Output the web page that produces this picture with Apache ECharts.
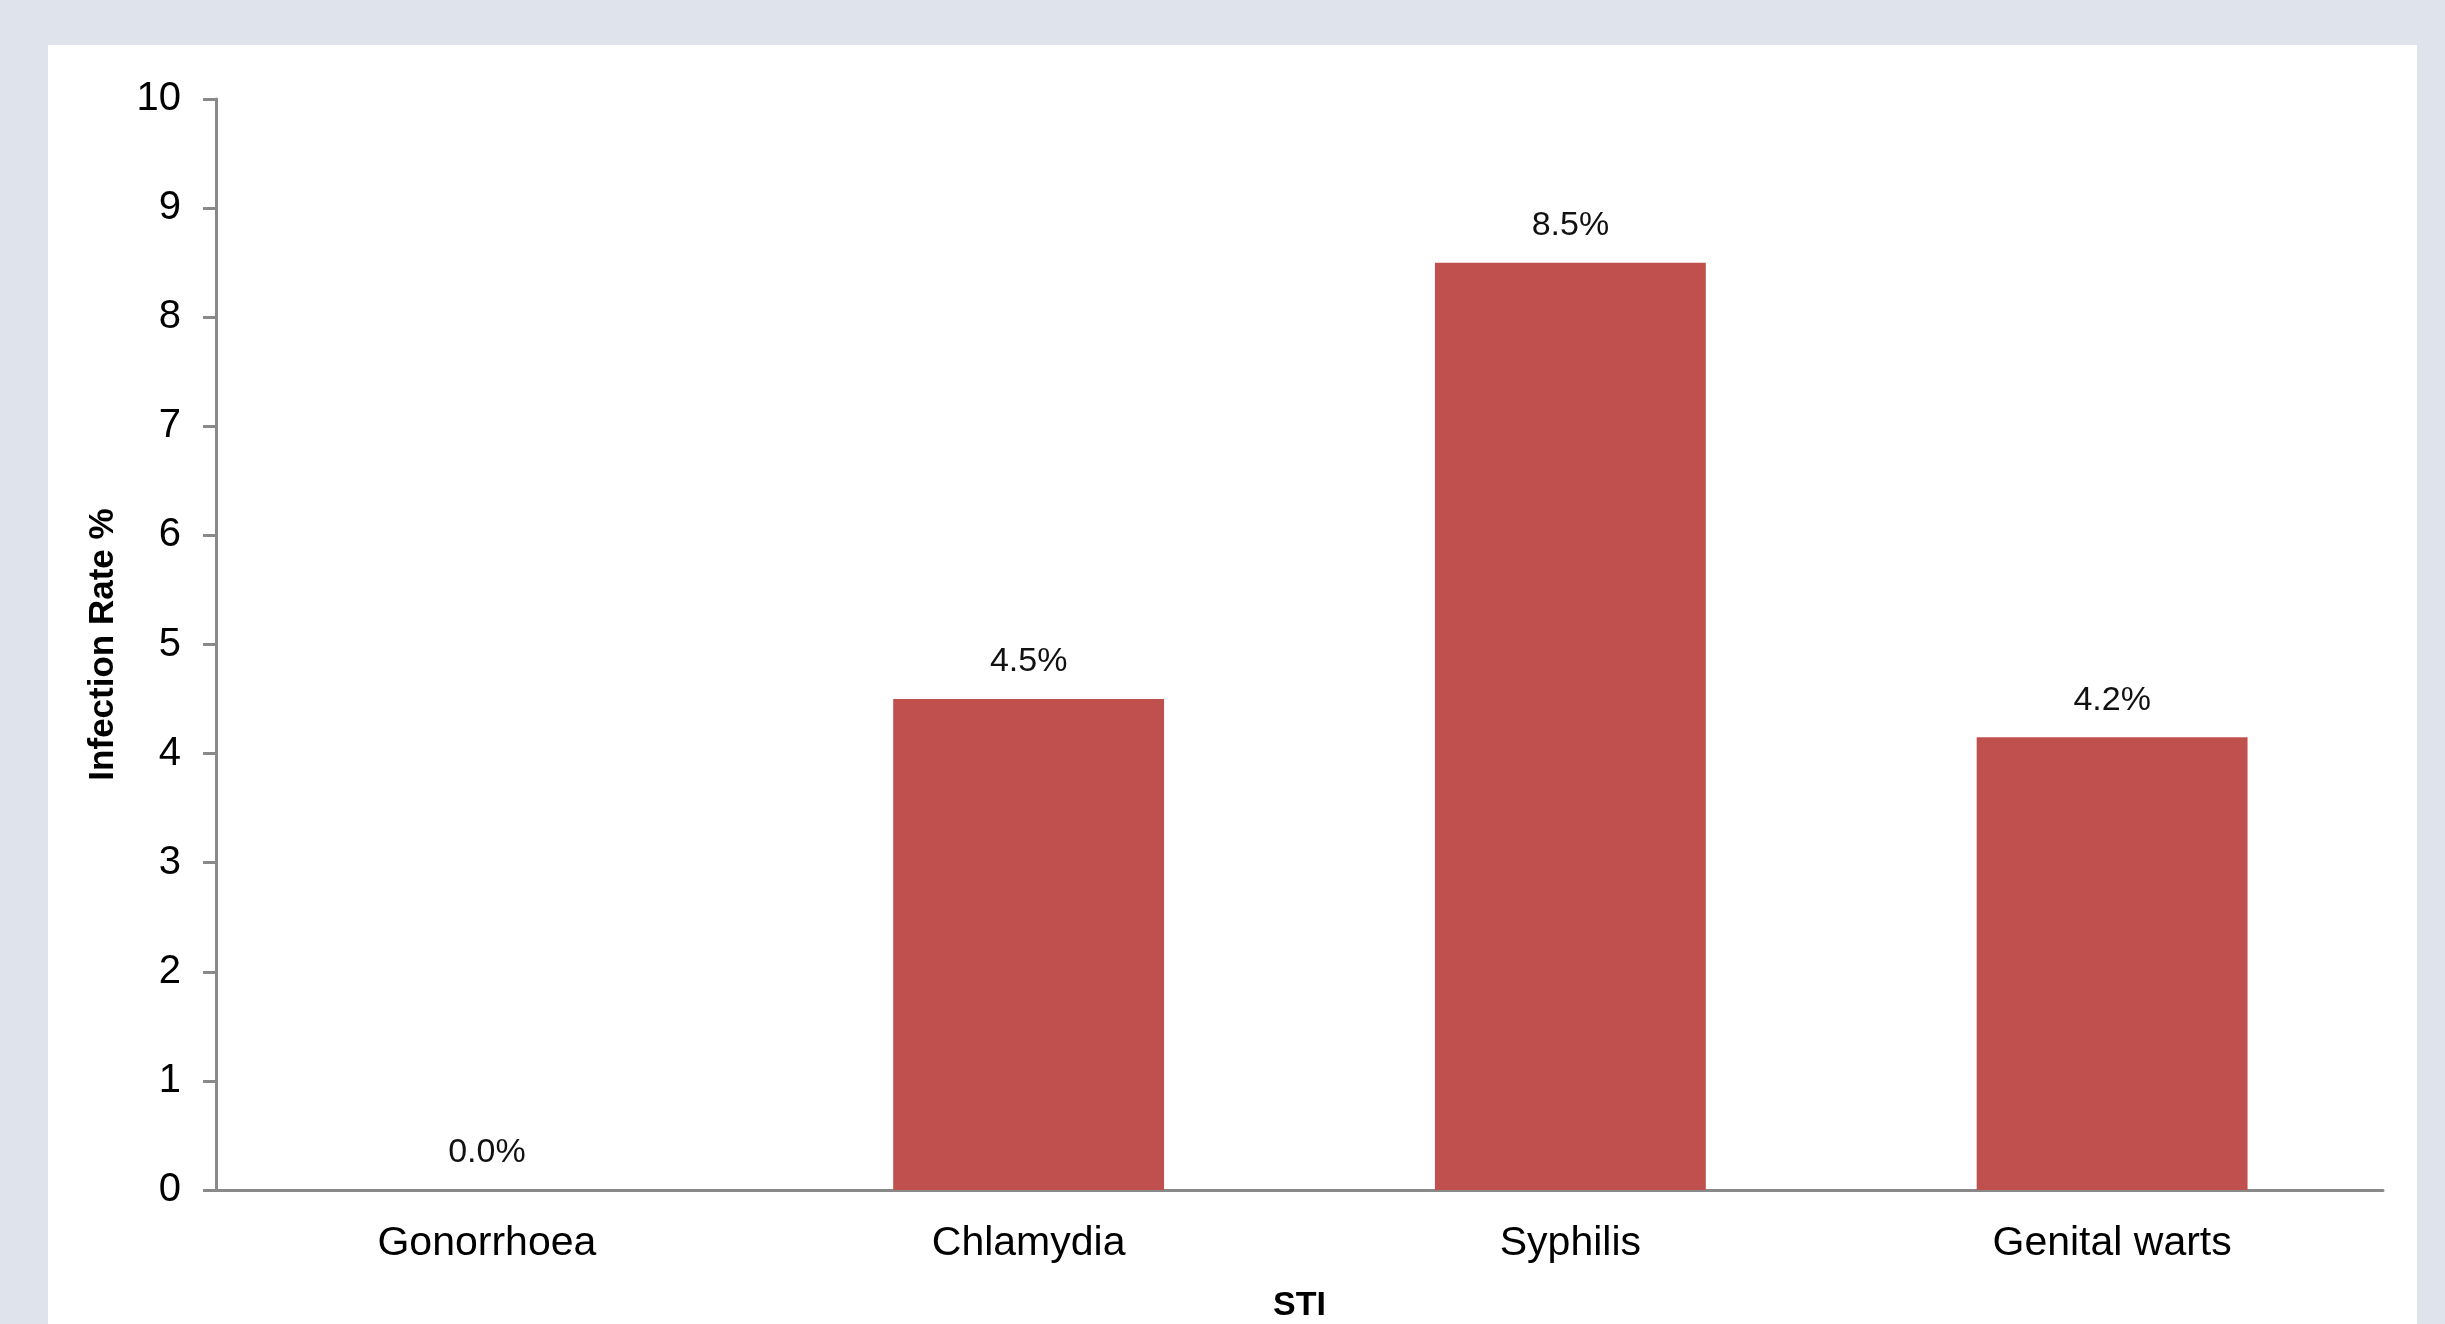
<!DOCTYPE html>
<html>
<head>
<meta charset="utf-8">
<script src="https://cdn.jsdelivr.net/npm/echarts@6/dist/echarts.min.js"></script>
<style>
  html, body { margin: 0; padding: 0; background: #dfe3ec; width: 2445px; height: 1324px; overflow: hidden; }
  #main { position: absolute; left: 48px; top: 45px; width: 2369px; height: 1279px; background: #ffffff; }
</style>
</head>
<body>
<div id="main"></div>
<script>
var categories = ['Gonorrhoea', 'Chlamydia', 'Syphilis', 'Genital warts'];
var rates = [0, 4.5, 8.5, 4.15];
var yTicks = { min: 0, max: 10, interval: 1 };

var chart = echarts.init(document.getElementById('main'));

var axisColor = '#898989';
var font = '"Liberation Sans", Arial, sans-serif';

var option = {
  backgroundColor: '#ffffff',
  animation: false,
  grid: { left: 168, right: 34, top: 54, bottom: 134, outerBoundsMode: 'none' },
  xAxis: {
    type: 'category',
    data: categories,
    name: 'STI',
    nameLocation: 'middle',
    nameGap: 99,
    nameTextStyle: { fontFamily: font, fontWeight: 'bold', fontSize: 34, color: '#000' },
    axisLine: { lineStyle: { color: axisColor, width: 3 } },
    axisTick: { show: false },
    axisLabel: { fontFamily: font, fontSize: 41, color: '#000', margin: 33 }
  },
  yAxis: {
    type: 'value',
    min: yTicks.min,
    max: yTicks.max,
    interval: yTicks.interval,
    name: 'Infection Rate %',
    nameLocation: 'middle',
    nameGap: 95,
    nameTextStyle: { fontFamily: font, fontWeight: 'bold', fontSize: 35, color: '#000' },
    axisLine: { show: true, lineStyle: { color: axisColor, width: 3 } },
    axisTick: { show: true, length: 13, lineStyle: { color: axisColor, width: 3 } },
    splitLine: { show: false },
    axisLabel: { fontFamily: font, fontSize: 40, color: '#000', margin: 35 }
  },
  series: [{
    type: 'bar',
    data: rates,
    barWidth: '50%',
    itemStyle: { color: '#c0504d' },
    label: {
      show: true,
      position: 'top',
      distance: 20,
      fontFamily: font,
      fontSize: 34,
      color: '#111',
      formatter: function (p) { return p.value.toFixed(1) + '%'; }
    }
  }]
};

chart.setOption(option);
</script>
</body>
</html>
